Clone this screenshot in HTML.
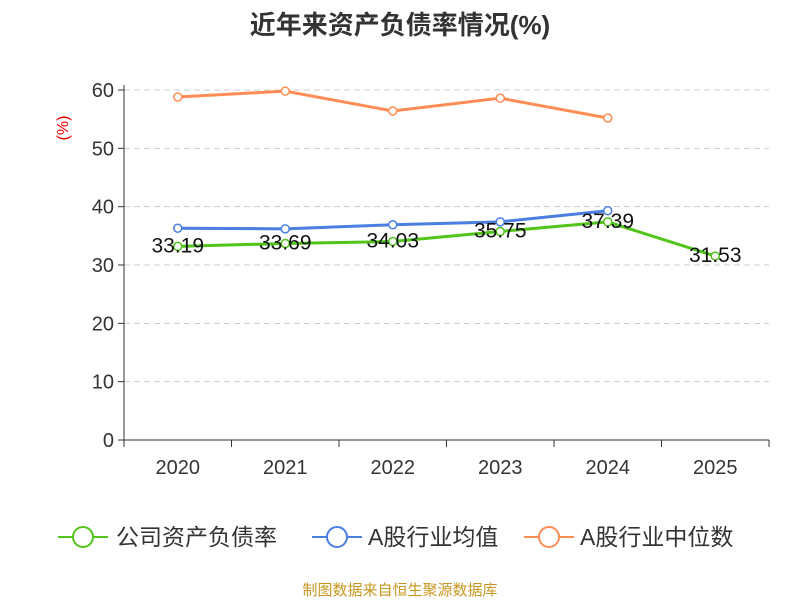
<!DOCTYPE html>
<html><head><meta charset="utf-8"><style>
body{margin:0;background:#fff;font-family:"Liberation Sans","Noto Sans CJK SC",sans-serif;}
</style></head><body>
<svg id="c" width="800" height="600" xmlns="http://www.w3.org/2000/svg" font-family="Liberation Sans, Noto Sans CJK SC, sans-serif">
<text x="400" y="34" text-anchor="middle" font-size="26" font-weight="bold" fill="#333">近年来资产负债率情况(%)</text>
<text transform="translate(68,128) rotate(-90)" text-anchor="middle" font-size="16" fill="#e00">(%)</text>
<g id="grid"></g><g id="axes"></g><g id="series"></g>
<g font-size="23" fill="#333">
<g><line x1="58" y1="537" x2="108" y2="537" stroke="#52c41a" stroke-width="2"/><circle cx="83" cy="537" r="10" fill="#fff" stroke="#52c41a" stroke-width="2"/><text x="116" y="545">公司资产负债率</text></g>
<g><line x1="312" y1="537" x2="362" y2="537" stroke="#4a7ee0" stroke-width="2"/><circle cx="337" cy="537" r="10" fill="#fff" stroke="#4a7ee0" stroke-width="2"/><text x="368" y="545">A股行业均值</text></g>
<g><line x1="524" y1="537" x2="574" y2="537" stroke="#ff8c55" stroke-width="2"/><circle cx="549" cy="537" r="10" fill="#fff" stroke="#ff8c55" stroke-width="2"/><text x="580" y="545">A股行业中位数</text></g>
</g>
<text x="400" y="595" text-anchor="middle" font-size="15" fill="#c8961e">制图数据来自恒生聚源数据库</text>
</svg>
<script>
const categories=["2020","2021","2022","2023","2024","2025"];
const companyVals=[33.19,33.69,34.03,35.75,37.39,31.53];
const meanVals=[36.3,36.2,36.9,37.4,39.3];
const medianVals=[58.8,59.8,56.4,58.6,55.2];
const yTicks=[0,10,20,30,40,50,60];
const NS="http://www.w3.org/2000/svg";
const x0=124,x1=769,y0=440,yTop=90,yMax=60;
const bw=(x1-x0)/categories.length;
const X=i=>x0+bw*(i+0.5);
const Y=v=>y0-(v/yMax)*(y0-yTop);
function mk(tag,attrs,parent){const e=document.createElementNS(NS,tag);for(const k in attrs)e.setAttribute(k,attrs[k]);parent.appendChild(e);return e;}
const grid=document.getElementById('grid'),axes=document.getElementById('axes'),ser=document.getElementById('series');
yTicks.forEach(t=>{
 if(t>0){const g=mk('line',{x1:x0,x2:x1,y1:Y(t),y2:Y(t),stroke:'#ccc','stroke-dasharray':'6,4'},grid);
 
 }
 const tk=mk('line',{x1:x0-6,x2:x0,y1:Y(t),y2:Y(t),stroke:'#333'},axes);
 
 
 const l=mk('text',{x:x0-10,y:Y(t)+7,'text-anchor':'end','font-size':20,fill:'#333'},axes);l.textContent=t;
 
 
});
const ya=mk('line',{x1:x0,x2:x0,y1:yTop-5,y2:y0,stroke:'#333'},axes);


const xa=mk('line',{x1:x0,x2:x1,y1:y0,y2:y0,stroke:'#333'},axes);


for(let i=0;i<=categories.length;i++){const t=mk('line',{x1:x0+bw*i,x2:x0+bw*i,y1:y0,y2:y0+7,stroke:'#333'},axes);
 
 }
categories.forEach((c,i)=>{const l=mk('text',{x:X(i),y:y0+34,'text-anchor':'middle','font-size':20,fill:'#333'},axes);l.textContent=c;
 
 });
function line(vals,color,name,labels){
 const g=mk('g',{},ser);
 
 
 const p=mk('polyline',{points:vals.map((v,i)=>X(i)+','+Y(v)).join(' '),fill:'none',stroke:color,'stroke-width':3},g);
 
 
 vals.forEach((v,i)=>{const c=mk('circle',{cx:X(i),cy:Y(v),r:4,fill:'#fff',stroke:color,'stroke-width':1.5},g);
  
  
  if(labels){const t=mk('text',{x:X(i),y:Y(v)+6,'text-anchor':'middle','font-size':21,fill:'#111'},g);t.textContent=v.toFixed(2);
  
  }});
}
line(medianVals,'#ff8c55','industry-median-series',false);
line(meanVals,'#4a7ee0','industry-mean-series',false);
line(companyVals,'#52c41a','company-series',true);
</script>
</body></html>
